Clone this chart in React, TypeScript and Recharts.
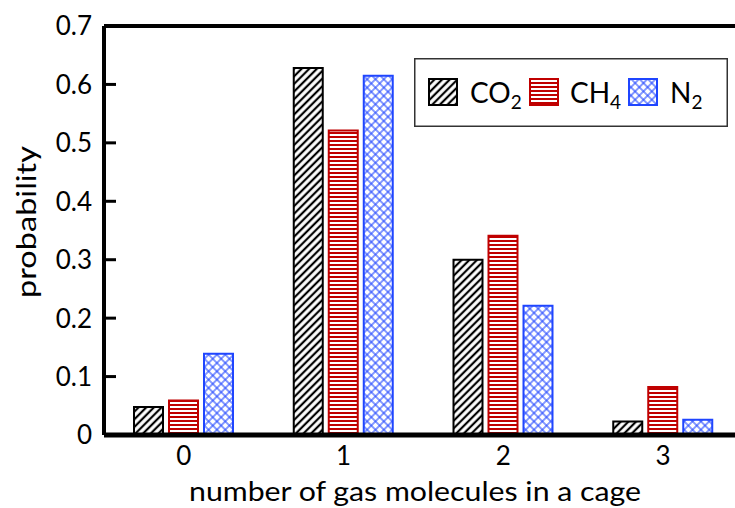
import { BarChart, Bar, XAxis, YAxis, Legend, ReferenceLine } from "recharts";

const categories = ["0", "1", "2", "3"];
const co2 = [0.048, 0.628, 0.3, 0.023];
const ch4 = [0.059, 0.521, 0.341, 0.082];
const n2 = [0.139, 0.615, 0.221, 0.026];
const yTicks = [0, 0.1, 0.2, 0.3, 0.4, 0.5, 0.6, 0.7];

const data = categories.map((cat, i) => ({
  cat,
  co2: co2[i],
  ch4: ch4[i],
  n2: n2[i],
}));

const FONT = "Lato, 'Open Sans', sans-serif";
const RED = "#c00000";
const BLUE = "#1f45ff";

function Patterns() {
  return (
    <defs>
      <pattern id="pCO2" patternUnits="userSpaceOnUse" width="5.4" height="5.4" patternTransform="rotate(45)">
        <rect width="5.4" height="5.4" fill="#fff" />
        <line x1="2.7" y1="0" x2="2.7" y2="5.4" stroke="#000" strokeWidth="2.2" />
      </pattern>
      <pattern id="pCH4" patternUnits="userSpaceOnUse" width="4" height="4">
        <rect width="4" height="4" fill="#fff" />
        <rect y="0" width="4" height="2" fill={RED} />
      </pattern>
      <pattern id="pN2" patternUnits="userSpaceOnUse" width="5.9" height="5.9" patternTransform="rotate(45)">
        <rect width="5.9" height="5.9" fill="#fff" />
        <line x1="2.95" y1="0" x2="2.95" y2="5.9" stroke={BLUE} strokeWidth="1.2" strokeOpacity="0.9" />
        <line x1="0" y1="2.95" x2="5.9" y2="2.95" stroke={BLUE} strokeWidth="1.2" strokeOpacity="0.9" />
      </pattern>
    </defs>
  );
}

function YTick(props: any) {
  const { x, y, payload } = props;
  const v = payload.value as number;
  return (
    <g>
      {v > 0 && v < 0.7 && (
        <line x1={x + 12} x2={x + 24} y1={y} y2={y} stroke="#000" strokeWidth={3} />
      )}
      <text x={x} y={y} dy="0.36em" textAnchor="end" fontSize={26} fontFamily={FONT} fill="#000">
        {v === 0 ? "0" : v.toFixed(1)}
      </text>
    </g>
  );
}

function XTick(props: any) {
  const { x, y, payload } = props;
  return (
    <text x={x} y={y} dy="0.36em" textAnchor="middle" fontSize={26} fontFamily={FONT} fill="#000">
      {payload.value}
    </text>
  );
}

function YTitle() {
  return (
    <text
      x={27}
      y={222}
      transform="rotate(-90 27 222)"
      textAnchor="middle"
      dy="0.35em"
      fontSize={27}
      fontFamily={FONT}
      fill="#000"
      textLength={152}
      lengthAdjust="spacingAndGlyphs"
    >
      probability
    </text>
  );
}

function XTitle() {
  return (
    <text
      x={415}
      y={492}
      textAnchor="middle"
      dy="0.35em"
      fontSize={27}
      fontFamily={FONT}
      fill="#000"
      textLength={452}
      lengthAdjust="spacingAndGlyphs"
    >
      number of gas molecules in a cage
    </text>
  );
}

const legendItems = [
  { fill: "url(#pCO2)", stroke: "#000", main: "CO", sub: "2", sx: 15, tx: 56 },
  { fill: "url(#pCH4)", stroke: RED, main: "CH", sub: "4", sx: 116, tx: 156 },
  { fill: "url(#pN2)", stroke: BLUE, main: "N", sub: "2", sx: 215, tx: 256 },
];

function LegendBox() {
  return (
    <svg width={314} height={69} style={{ display: "block" }}>
      <rect x={0.75} y={0.75} width={312.5} height={67.5} fill="#fff" stroke="#333" strokeWidth={1.5} />
      {legendItems.map((it) => (
        <g key={it.main}>
          <rect x={it.sx} y={21} width={28} height={26} fill={it.fill} stroke={it.stroke} strokeWidth={2} />
          <text x={it.tx} y={45} fontSize={28} fontFamily={FONT} fill="#000">
            {it.main}
            <tspan fontSize={19} dy={6}>{it.sub}</tspan>
          </text>
        </g>
      ))}
    </svg>
  );
}

export default function App() {
  return (
    <div style={{ position: "absolute", left: 0, top: 0, width: 735, height: 508, overflow: "hidden", background: "#fff" }}>
      <BarChart
        width={760}
        height={508}
        data={data}
        margin={{ top: 26, right: 17, bottom: 0, left: 0 }}
        barSize={29}
        barGap={6}
      >
        <Patterns />
        <XAxis
          dataKey="cat"
          height={73}
          tickLine={false}
          tickSize={0}
          tickMargin={21}
          axisLine={{ stroke: "#000", strokeWidth: 5 }}
          tick={<XTick />}
          label={<XTitle />}
        />
        <YAxis
          width={104}
          domain={[0, 0.7]}
          ticks={yTicks}
          interval={0}
          tickLine={false}
          tickSize={0}
          tickMargin={12}
          axisLine={{ stroke: "#000", strokeWidth: 4 }}
          tick={<YTick />}
          label={<YTitle />}
        />
        <ReferenceLine y={0.7} stroke="#000" strokeWidth={4} />
        <Bar dataKey="co2" name="CO2" fill="url(#pCO2)" stroke="#000" strokeWidth={2} isAnimationActive={false} />
        <Bar dataKey="ch4" name="CH4" fill="url(#pCH4)" stroke={RED} strokeWidth={2} isAnimationActive={false} />
        <Bar dataKey="n2" name="N2" fill="url(#pN2)" stroke={BLUE} strokeWidth={2} isAnimationActive={false} />
        <Legend
          layout="horizontal"
          verticalAlign="middle"
          align="center"
          content={<LegendBox />}
          wrapperStyle={{ left: 414, top: 58, width: 314, height: 69 }}
        />
      </BarChart>
    </div>
  );
}
